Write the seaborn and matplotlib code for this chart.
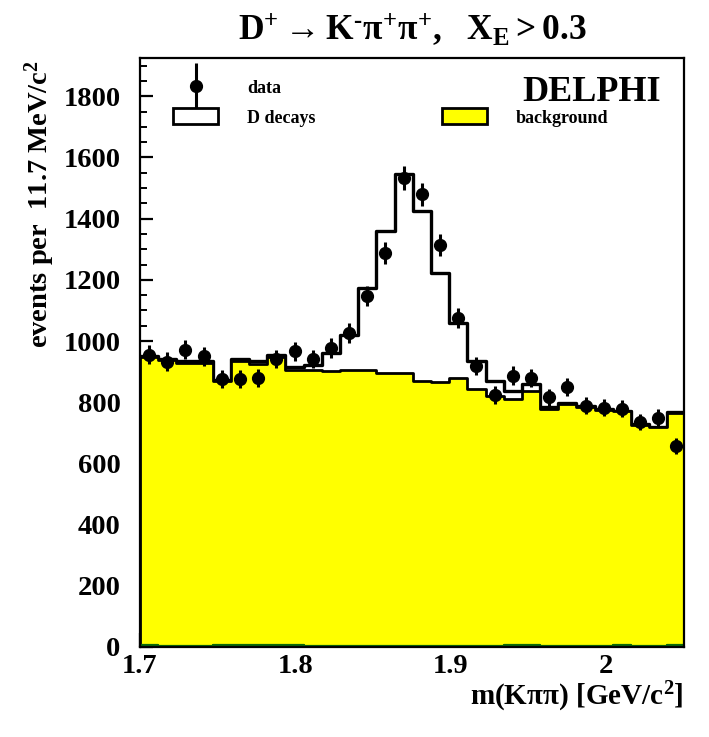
import numpy as np
import pandas as pd
import matplotlib
matplotlib.use("Agg")
import matplotlib.pyplot as plt
import seaborn as sns
from matplotlib.patches import Patch
from matplotlib.legend_handler import HandlerErrorbar
from matplotlib.container import ErrorbarContainer

# ---- data ----
x_min, bin_width, n_bins = 1.7, 0.0117, 30
data_counts = [955, 932, 972, 950, 877, 877, 880, 941, 966, 941, 977, 1026,
               1147, 1287, 1534, 1479, 1313, 1074, 918, 823, 887, 879, 816,
               850, 788, 782, 779, 736, 750, 657]
total_counts = [952, 941, 934, 934, 874, 941, 935, 955, 915, 921, 961, 1021,
                1174, 1359, 1545, 1425, 1221, 1060, 935, 870, 837, 859, 786,
                799, 788, 778, 772, 728, 720, 769]
background_counts = [948, 937, 928, 928, 868, 934, 926, 948, 906, 906, 901, 904,
                     906, 897, 897, 870, 866, 878, 843, 821, 810, 837, 778,
                     793, 784, 776, 770, 726, 718, 765]
other_counts = [6, 4, 3, 3, 5, 5, 5, 6, 6, 4, 3, 3, 3, 3, 4, 4, 3, 3, 3, 3,
                5, 5, 4, 3, 3, 3, 5, 3, 3, 5]
x_ticks = [1.7, 1.8, 1.9, 2.0]
x_tick_labels = ["1.7", "1.8", "1.9", "2"]
y_ticks = [0, 200, 400, 600, 800, 1000, 1200, 1400, 1600, 1800]

edges = [x_min + bin_width * i for i in range(n_bins + 1)]
centers = [0.5 * (edges[i] + edges[i + 1]) for i in range(n_bins)]
df = pd.DataFrame({"m": centers, "data": data_counts, "total": total_counts,
                   "bg": background_counts, "other": other_counts})

# ---- style ----
sns.set_theme(style="ticks")
plt.rcParams["font.family"] = ["Liberation Serif", "DejaVu Serif"]
plt.rcParams["font.weight"] = "bold"
plt.rcParams["mathtext.fontset"] = "custom"
plt.rcParams["mathtext.rm"] = "Liberation Serif:bold"
plt.rcParams["mathtext.it"] = "Liberation Serif:bold"
plt.rcParams["mathtext.bf"] = "Liberation Serif:bold"
plt.rcParams["axes.linewidth"] = 1.6
for k in ["text.color", "axes.labelcolor", "xtick.color", "ytick.color",
          "axes.edgecolor", "xtick.labelcolor", "ytick.labelcolor"]:
    plt.rcParams[k] = "black"

W, H = 709, 737
fig = plt.figure(figsize=(W / 100, H / 100), dpi=100)
L, R, T, B = 140, 684, 58, 647
ax = fig.add_axes([L / W, 1 - B / H, (R - L) / W, (B - T) / H])

yellow = "#ffff00"
sns.histplot(data=df, x="m", weights="total", bins=edges, element="step",
             fill=True, color="white", edgecolor="black", alpha=1,
             linewidth=2.4, ax=ax)
sns.histplot(data=df, x="m", weights="bg", bins=edges, element="step",
             fill=True, color=yellow, edgecolor="black", alpha=1,
             linewidth=2.0, ax=ax)
sns.histplot(data=df, x="m", weights="other", bins=edges, element="step",
             fill=False, color="#0a6a0a", linewidth=1.6, ax=ax)
eb = ax.errorbar(df["m"], df["data"], yerr=np.sqrt(df["data"]), fmt="o",
                 color="black", markersize=8.5, elinewidth=2.2, capsize=0,
                 zorder=5)

ax.set_xlim(1.7, 2.05)
ax.set_ylim(0, 1925)
ax.set_xticks(x_ticks)
ax.set_xticklabels(x_tick_labels)
ax.set_xticks(np.arange(1.72, 2.05, 0.02), minor=True)
ax.set_yticks(y_ticks)
ax.set_yticks(np.arange(0, 1925, 50), minor=True)
ax.tick_params(axis="both", which="both", direction="in", top=False,
               right=False, colors="black", labelcolor="black")
ax.tick_params(axis="x", which="major", length=10, width=1.6, pad=5,
               labelsize=20.5)
ax.tick_params(axis="x", which="minor", length=5, width=1.4)
ax.tick_params(axis="y", which="major", length=9, width=1.6, pad=14,
               labelsize=20.5)
ax.tick_params(axis="y", which="minor", length=5, width=1.4)
for lab in ax.get_xticklabels() + ax.get_yticklabels():
    lab.set_fontweight("bold")
ax.set_xlabel("")
ax.set_ylabel("")
for s in ax.spines.values():
    s.set_visible(True)
    s.set_color("black")

# ---- texts ----
fig.text((L + R) / 2 / W, 1 - 30 / H,
         "$\\mathbf{D^{+} \\rightarrow K^{\u2010}\\pi^{+}\\pi^{+},\\ \\ X_{E} > 0.3}$",
         ha="center", va="center", fontsize=25.5, color="black")
fig.text(40 / W, 1 - 60 / H, r"events per  11.7 MeV/c$^{2}$", rotation=90,
         ha="center", va="top", fontsize=20.5, fontweight="bold", color="black")
fig.text(R / W, 1 - 697 / H, r"m(K$\pi\pi$) [GeV/c$^{2}$]", ha="right",
         va="center", fontsize=21, fontweight="bold", color="black")
ax.text(0.958, 0.942, "DELPHI", transform=ax.transAxes, ha="right",
        va="center", fontsize=26, fontweight="bold", color="black")

# ---- legend ----
blank = Patch(visible=False)
handles = [eb, Patch(facecolor="white", edgecolor="black", linewidth=2),
           blank, Patch(facecolor=yellow, edgecolor="black", linewidth=2)]
labels = ["data", "D decays", "", "background"]
leg = ax.legend(handles, labels, ncol=2, loc="upper left",
                bbox_to_anchor=(0.061, 0.964), frameon=False,
                prop={"family": "Liberation Serif", "weight": "bold", "size": 13},
                handlelength=2.5, handleheight=1.0, handletextpad=1.6,
                columnspacing=7.0, labelspacing=0.6, borderpad=0,
                borderaxespad=0,
                handler_map={ErrorbarContainer: HandlerErrorbar(yerr_size=1.3)})
for t in leg.get_texts():
    t.set_color("black")

fig.savefig("out.png", dpi=100)
